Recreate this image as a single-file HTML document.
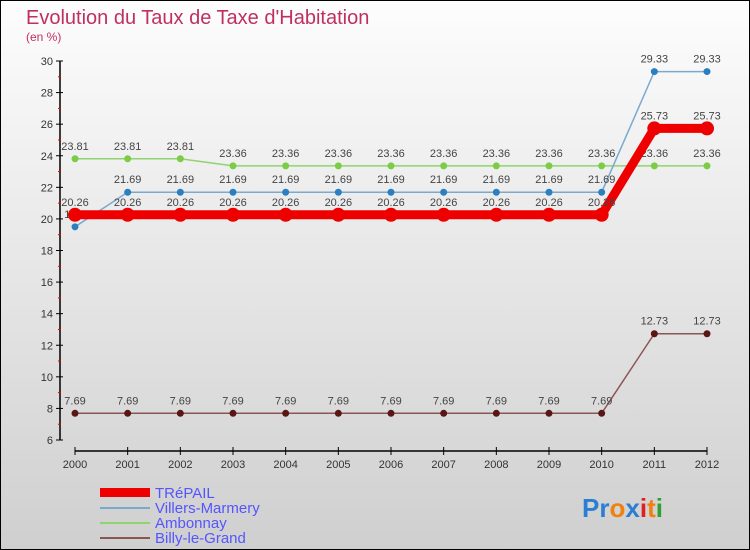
<!DOCTYPE html>
<html><head><meta charset="utf-8"><style>
body{margin:0;width:750px;height:550px;overflow:hidden}
svg{display:block}
text{font-family:"Liberation Sans",sans-serif}
</style></head><body>
<svg id="c" width="750" height="550">
<defs><linearGradient id="bg" x1="0" y1="0" x2="0" y2="1"><stop offset="0" stop-color="#fdfdfd"/><stop offset="1" stop-color="#cfcfcf"/></linearGradient></defs>
<rect x="0.5" y="0.5" width="749" height="549" fill="url(#bg)" stroke="#000"/>
<text x="26" y="24" font-size="20" fill="#c0305f">Evolution du Taux de Taxe d'Habitation</text>
<text x="26" y="41" font-size="12" fill="#c0305f">(en %)</text>
<g id="axes"></g><g id="series"></g>
<g>
<rect x="100" y="488" width="50" height="9" fill="#e00"/>
<text x="155" y="498" font-size="15" fill="#55f">TRéPAIL</text>
<line x1="100" y1="508" x2="150" y2="508" stroke="#7aa9cf" stroke-width="2"/>
<text x="155" y="513" font-size="15" fill="#55f">Villers-Marmery</text>
<line x1="100" y1="523" x2="150" y2="523" stroke="#8fd46f" stroke-width="2"/>
<text x="155" y="528" font-size="15" fill="#55f">Ambonnay</text>
<line x1="100" y1="538" x2="150" y2="538" stroke="#8a5555" stroke-width="2"/>
<text x="155" y="543" font-size="15" fill="#55f">Billy-le-Grand</text>
</g>
<text x="582" y="517" font-size="26" font-weight="bold"><tspan fill="#2a7fd4">Pr</tspan><tspan fill="#f08010">o</tspan><tspan fill="#2a7fd4">x</tspan><tspan fill="#e02020">i</tspan><tspan fill="#f08010">t</tspan><tspan fill="#30a030">i</tspan></text>
</svg>
<script>
const years=[2000,2001,2002,2003,2004,2005,2006,2007,2008,2009,2010,2011,2012];
const yTicks=[6,8,10,12,14,16,18,20,22,24,26,28,30];
const trepail=[20.26,20.26,20.26,20.26,20.26,20.26,20.26,20.26,20.26,20.26,20.26,25.73,25.73];
const villers=[19.5,21.69,21.69,21.69,21.69,21.69,21.69,21.69,21.69,21.69,21.69,29.33,29.33];
const ambonnay=[23.81,23.81,23.81,23.36,23.36,23.36,23.36,23.36,23.36,23.36,23.36,23.36,23.36];
const billy=[7.69,7.69,7.69,7.69,7.69,7.69,7.69,7.69,7.69,7.69,7.69,12.73,12.73];
const NS="http://www.w3.org/2000/svg";
const X=i=>75+i*(707-75)/(years.length-1);
const Y=v=>440-(v-6)*(440-61)/24;
function mk(t,a,p){const e=document.createElementNS(NS,t);for(const k in a)e.setAttribute(k,a[k]);p.appendChild(e);return e;}
const ax=document.getElementById('axes');
let l=mk('line',{x1:60,y1:Y(30),x2:60,y2:Y(6),stroke:'#000','stroke-width':1.5},ax);


yTicks.forEach((v,k)=>{
 mk('line',{x1:56,y1:Y(v),x2:63,y2:Y(v),stroke:'#000'},ax);
 if(k<yTicks.length-1) mk('line',{x1:58,y1:Y(v+1),x2:61,y2:Y(v+1),stroke:'#e00'},ax);
 const t=mk('text',{x:53,y:Y(v)+4,'font-size':11,'text-anchor':'end',fill:'#333'},ax);t.textContent=v;
 
 
});
l=mk('line',{x1:75,y1:451,x2:707,y2:451,stroke:'#000','stroke-width':1.5},ax);


years.forEach((y,i)=>{
 mk('line',{x1:X(i),y1:447,x2:X(i),y2:455,stroke:'#000'},ax);
 const t=mk('text',{x:X(i),y:468,'font-size':11,'text-anchor':'middle',fill:'#333'},ax);t.textContent=y;
 
 
});
const sg=document.getElementById('series');
function series(data,name,col,w,r,dot){
 const g=mk('g',{},sg);
 
 
 const p=mk('polyline',{points:data.map((v,i)=>X(i)+','+Y(v)).join(' '),fill:'none',stroke:col,'stroke-width':w},g);
 
 
 data.forEach((v,i)=>{
  const c=mk('circle',{cx:X(i),cy:Y(v),r:r,fill:dot},g);
  
  
  const t=mk('text',{x:X(i),y:Y(v)-9,'font-size':11,'text-anchor':'middle',fill:'#444'},g);
  t.textContent=v;
  
  
 });
}
series(billy,'billy','#8a5555',1.5,3.5,'#5a1515');
series(ambonnay,'ambonnay','#8fd46f',1.5,3.5,'#7ccc45');
series(villers,'villers','#7aa9cf',1.5,3.5,'#2a7fc0');
series(trepail,'trepail','#e00',9,7,'#e00');
</script>
</body></html>
